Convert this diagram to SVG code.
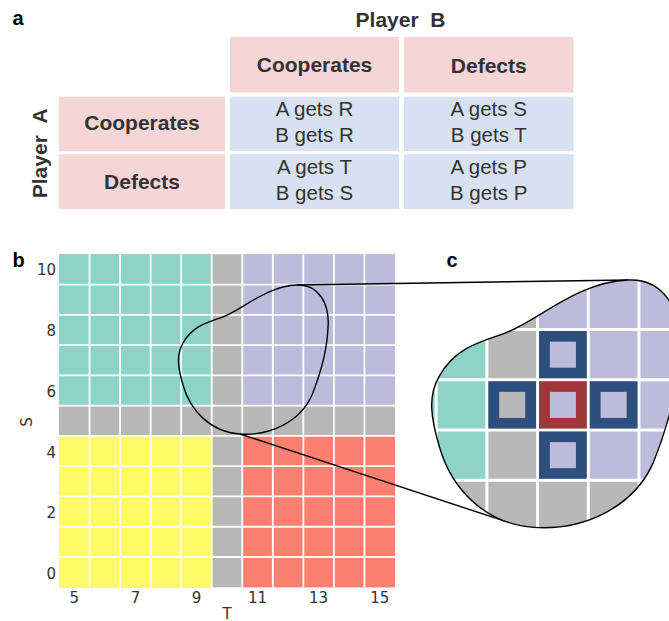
<svg xmlns="http://www.w3.org/2000/svg" xmlns:xlink="http://www.w3.org/1999/xlink" width="669" height="621" viewBox="0 0 669 621">
  <style>
    .panel { font-family: "Liberation Sans", Arial, sans-serif; font-weight: bold; font-size: 20px; fill: #000; }
    .hdr { fill: #f4d6d6; }
    .pay { fill: #d7e1f2; }
    .th { font-family: "Liberation Sans", Arial, sans-serif; font-weight: bold; font-size: 21px; fill: #333; text-anchor: middle; }
    .td { font-family: "Liberation Sans", Arial, sans-serif; font-size: 20.5px; fill: #333; text-anchor: middle; }
    .tick { font-family: "DejaVu Sans", sans-serif; font-size: 15px; fill: #333; }
    .teal { fill: #8dd3c7; }
    .lav { fill: #bebada; }
    .grey { fill: #b8b8b8; }
    .yel { fill: #fefb66; }
    .sal { fill: #fb8072; }
    .gridline { stroke: #fff; stroke-width: 1.8; fill: none; }
    .outline { fill: none; stroke: #000; stroke-width: 1.4; }
    .link { fill: none; stroke: #000; stroke-width: 1.4; }
    .nbr { fill: #2d4f7e; }
    .focal { fill: #a0353a; }
  </style>
  <defs>
    <!-- closed neighbourhood outline, in panel-b coordinates -->
    <path id="blobPath" d="M297,285 C318,284 330,303 328,328 C327,350 320,375 312,395 C300,422 270,436 240,434 C210,432 190,410 183,385 C178,368 176,355 183,343 C192,327 205,323 220,318 C240,312 265,286 297,285 Z"/>
    <clipPath id="blobClip">
      <use href="#blobPath"/>
    </clipPath>
  </defs>

  <rect width="669" height="621" fill="#fff"/>

  <!-- panel a: payoff matrix -->
  <g id="panel-a">
    <text class="panel" x="12.5" y="25">a</text>
    <text class="th" x="400.5" y="26.7">Player&#160;&#160;B</text>
    <text class="th" transform="translate(46.7,153.3) rotate(-90)">Player&#160;&#160;A</text>

    <g id="col-cooperates">
      <rect class="hdr" x="230" y="37" width="169" height="55.5"/>
      <text class="th" x="314.5" y="71.7">Cooperates</text>
    </g>
    <g id="col-defects">
      <rect class="hdr" x="404" y="37" width="169.5" height="55.5"/>
      <text class="th" x="488.75" y="73.3">Defects</text>
    </g>
    <g id="row-cooperates">
      <rect class="hdr" x="59" y="96.7" width="166" height="54.5"/>
      <text class="th" x="142" y="130">Cooperates</text>
    </g>
    <g id="row-defects">
      <rect class="hdr" x="59" y="154.3" width="166" height="54.7"/>
      <text class="th" x="142" y="189.3">Defects</text>
    </g>

    <g id="cell-cc">
      <rect class="pay" x="230" y="96.7" width="169" height="54.5"/>
      <text class="td" x="314.5" y="116">A gets R</text>
      <text class="td" x="314.5" y="142">B gets R</text>
    </g>
    <g id="cell-cd">
      <rect class="pay" x="404" y="96.7" width="169.5" height="54.5"/>
      <text class="td" x="488.75" y="116">A gets S</text>
      <text class="td" x="488.75" y="142">B gets T</text>
    </g>
    <g id="cell-dc">
      <rect class="pay" x="230" y="154.3" width="169" height="54.7"/>
      <text class="td" x="314.5" y="174">A gets T</text>
      <text class="td" x="314.5" y="199.5">B gets S</text>
    </g>
    <g id="cell-dd">
      <rect class="pay" x="404" y="154.3" width="169.5" height="54.7"/>
      <text class="td" x="488.75" y="174">A gets P</text>
      <text class="td" x="488.75" y="199.5">B gets P</text>
    </g>
  </g>

  <!-- panel b: T-S parameter grid (11 x 11 cells) -->
  <g id="panel-b">
    <text class="panel" x="12.5" y="266.7">b</text>
    <g id="gridB">
      <rect class="grey" x="59" y="254.3" width="336" height="333"/>
      <rect class="teal" x="59" y="254.3" width="152.73" height="151.35"/>
      <rect class="lav" x="242.27" y="254.3" width="152.73" height="151.35"/>
      <rect class="yel" x="59" y="435.92" width="152.73" height="151.35"/>
      <rect class="sal" x="242.27" y="435.92" width="152.73" height="151.35"/>
      <path class="gridline" d="M89.55,254.3V587.3 M120.09,254.3V587.3 M150.64,254.3V587.3 M181.18,254.3V587.3 M211.73,254.3V587.3 M242.27,254.3V587.3 M272.82,254.3V587.3 M303.36,254.3V587.3 M333.91,254.3V587.3 M364.45,254.3V587.3
        M59,284.57H395 M59,314.84H395 M59,345.11H395 M59,375.38H395 M59,405.65H395 M59,435.92H395 M59,466.19H395 M59,496.46H395 M59,526.73H395 M59,557H395"/>
    </g>
    <g id="axis-s" class="tick" text-anchor="end">
      <text x="56" y="275.2">10</text>
      <text x="56" y="336">8</text>
      <text x="56" y="396.8">6</text>
      <text x="56" y="457.6">4</text>
      <text x="56" y="518.4">2</text>
      <text x="56" y="579.2">0</text>
      <text text-anchor="middle" transform="translate(31.6,422) rotate(-90)">S</text>
    </g>
    <g id="axis-t" class="tick" text-anchor="middle">
      <text x="74.3" y="603.3">5</text>
      <text x="135.4" y="603.3">7</text>
      <text x="196.5" y="603.3">9</text>
      <text x="257.5" y="603.3">11</text>
      <text x="318.6" y="603.3">13</text>
      <text x="379.7" y="603.3">15</text>
      <text x="227" y="619">T</text>
    </g>
    <use id="blob-b" class="outline" href="#blobPath"/>
  </g>

  <!-- connectors from the outlined region in b to its enlargement in c -->
  <g id="connectors">
    <path class="link" d="M297,285 L628.4,280"/>
    <path class="link" d="M240,434 L505.6,521.4"/>
  </g>

  <!-- panel c: enlarged neighbourhood (panel-b coordinates scaled by 1.66) -->
  <g id="panel-c">
    <text class="panel" x="446.5" y="266.5">c</text>
    <g transform="translate(135.4,-193.1) scale(1.66)">
      <g clip-path="url(#blobClip)">
        <use href="#gridB"/>
        <g id="nbr-top">
          <rect class="nbr" x="243.17" y="315.74" width="28.745" height="28.47"/>
          <rect class="lav" x="249.69" y="322.13" width="15.7" height="15.7"/>
        </g>
        <g id="nbr-left">
          <rect class="nbr" x="212.63" y="346.01" width="28.745" height="28.47"/>
          <rect class="grey" x="219.15" y="352.4" width="15.7" height="15.7"/>
        </g>
        <g id="focal">
          <rect class="focal" x="243.17" y="346.01" width="28.745" height="28.47"/>
          <rect class="lav" x="249.69" y="352.4" width="15.7" height="15.7"/>
        </g>
        <g id="nbr-right">
          <rect class="nbr" x="273.72" y="346.01" width="28.745" height="28.47"/>
          <rect class="lav" x="280.24" y="352.4" width="15.7" height="15.7"/>
        </g>
        <g id="nbr-bottom">
          <rect class="nbr" x="243.17" y="376.28" width="28.745" height="28.47"/>
          <rect class="lav" x="249.69" y="382.67" width="15.7" height="15.7"/>
        </g>
      </g>
      <use id="blob-c" href="#blobPath" fill="none" stroke="#000" stroke-width="0.85"/>
    </g>
  </g>
</svg>
